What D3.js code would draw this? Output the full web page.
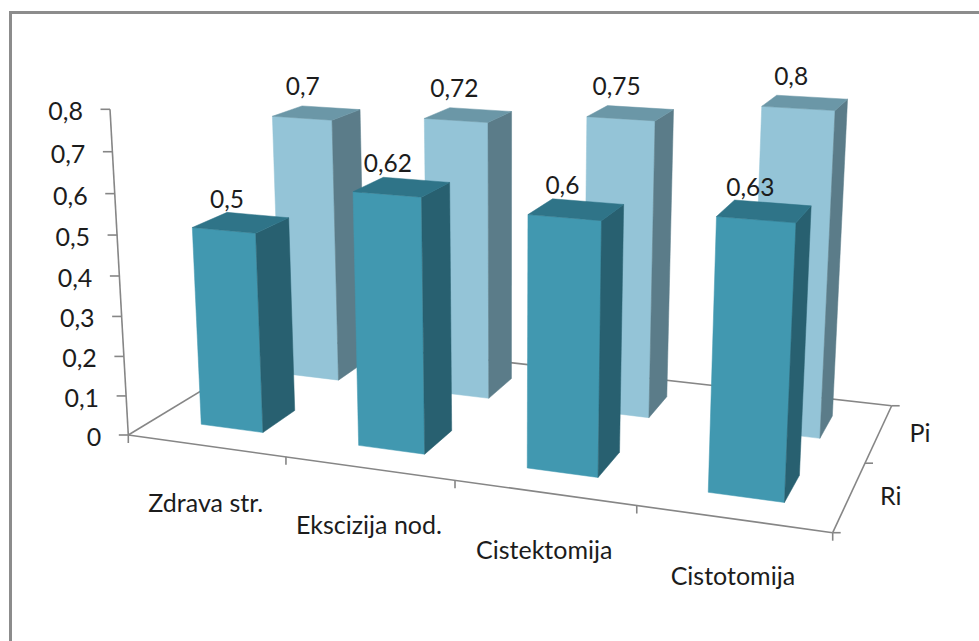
<!DOCTYPE html>
<html><head><meta charset="utf-8">
<script src="https://cdn.jsdelivr.net/npm/d3@7"></script>
<style>html,body{margin:0;padding:0;background:#fff}svg{display:block}text{font-family:Lato,"Open Sans",sans-serif;fill:#1c1c1c}</style>
</head><body><script>
const categories = ["Zdrava str.","Ekscizija nod.","Cistektomija","Cistotomija"];
const seriesNames = ["Ri","Pi"];
const valuesRi = [0.5,0.62,0.6,0.63];
const valuesPi = [0.7,0.72,0.75,0.8];
const yTicks = [0,0.1,0.2,0.3,0.4,0.5,0.6,0.7,0.8];

const W=979,H=641;
const fmt = v => String(v).replace(".",",");
const colors = {
  Ri:{front:"#4198b0",side:"#286070",top:"#2f7488"},
  Pi:{front:"#94c4d7",side:"#5b7c89",top:"#6b97a7"}
};
const axisColor="#868686";

// scales into unit box (u along categories, v along depth, h along height)
const uScale=d3.scaleBand().domain(categories).range([0,1]).paddingInner(.6).paddingOuter(.3);
const vScale=d3.scaleBand().domain(seriesNames).range([0,1]).paddingInner(.6).paddingOuter(.3);
const hScale=d3.scaleLinear().domain([0,0.8]).range([0,1]);

// perspective camera for the unit box: corner anchors and homogeneous weights
const O=[128.3,435], X=[832.7,532.7], V=[289,337.6], T=[110,109.3];
const cX=.865,cV=1.182,cH=.954;
const col=(P,c)=>[c*P[0]-O[0],c*P[1]-O[1],c-1];
const A=col(X,cX),B=col(V,cV),C=col(T,cH);
function proj(u,v,h){
  const w=1+u*A[2]+v*B[2]+h*C[2];
  return [(O[0]+u*A[0]+v*B[0]+h*C[0])/w,(O[1]+u*A[1]+v*B[1]+h*C[1])/w];
}

const svg=d3.select("body").append("svg").attr("width",W).attr("height",H);
svg.append("path").attr("d",d3.line()([[10.5,H],[10.5,12.5],[W,12.5]]))
  .attr("fill","none").attr("stroke","#8c8c8c").attr("stroke-width",3);

const line=d3.line();
const axisG=svg.append("g").attr("fill","none").attr("stroke",axisColor).attr("stroke-width",1.6);
const seg=(a,b)=>axisG.append("path").attr("d",line([a,b]));
const off=(p,dx,dy)=>[p[0]+dx,p[1]+dy];

// floor edges
seg(proj(0,0,0),proj(1,0,0));
seg(proj(1,0,0),proj(1,1,0));
seg(proj(1,1,0),proj(0,1,0));
seg(proj(0,1,0),proj(0,0,0));
// value axis
seg(proj(0,0,0),proj(0,0,1));
yTicks.forEach(t=>{const p=proj(0,0,hScale(t));seg(p,off(p,-9.5,0));});
// category ticks
d3.range(0,5).forEach(i=>{const p=proj(i/4,0,0);seg(p,off(p,0,8));});
// depth ticks
d3.range(0,3).forEach(i=>{const p=proj(1,i/2,0);seg(p,off(p,8,0));});

// bars, back row first
const rows=[{name:"Pi",vals:valuesPi},{name:"Ri",vals:valuesRi}];
const barsG=svg.append("g");
rows.forEach(r=>{
  const c=colors[r.name];
  const v0=vScale(r.name),v1=v0+vScale.bandwidth();
  categories.forEach((cat,i)=>{
    const u0=uScale(cat),u1=u0+uScale.bandwidth(),h=hScale(r.vals[i]);
    const face=(pts,fill)=>barsG.append("path")
      .attr("d",line(pts)+"Z").attr("fill",fill).attr("stroke",fill).attr("stroke-width",.5);
    face([proj(u0,v0,0),proj(u1,v0,0),proj(u1,v0,h),proj(u0,v0,h)],c.front);
    face([proj(u1,v0,0),proj(u1,v1,0),proj(u1,v1,h),proj(u1,v0,h)],c.side);
    face([proj(u0,v0,h),proj(u1,v0,h),proj(u1,v1,h),proj(u0,v1,h)],c.top);
  });
});

// data labels
const textG=svg.append("g");
rows.forEach(r=>{
  const v=vScale(r.name)+vScale.bandwidth()/2;
  const dy=r.name==="Ri"?-15:-18;
  categories.forEach((cat,i)=>{
    const p=proj(uScale(cat)+uScale.bandwidth()/2,v,hScale(r.vals[i]));
    textG.append("text").attr("x",p[0]-14).attr("y",p[1]+dy)
      .attr("text-anchor","middle").attr("font-size",24.5).text(fmt(r.vals[i]));
  });
});
// value tick labels
yTicks.forEach(t=>{
  const p=proj(0,0,hScale(t));
  textG.append("text").attr("x",p[0]-27).attr("y",p[1]+11)
    .attr("text-anchor","end").attr("font-size",25).text(fmt(t));
});
// category labels
categories.forEach(cat=>{
  const p=proj(uScale(cat)+uScale.bandwidth()/2,0,0);
  textG.append("text").attr("x",p[0]).attr("y",p[1]+66)
    .attr("text-anchor","middle").attr("font-size",25).text(cat);
});
// series labels
seriesNames.forEach(s=>{
  const p=proj(1,vScale(s)+vScale.bandwidth()/2,0);
  textG.append("text").attr("x",p[0]+41).attr("y",p[1]+9)
    .attr("text-anchor","middle").attr("font-size",25).text(s);
});
</script></body></html>
